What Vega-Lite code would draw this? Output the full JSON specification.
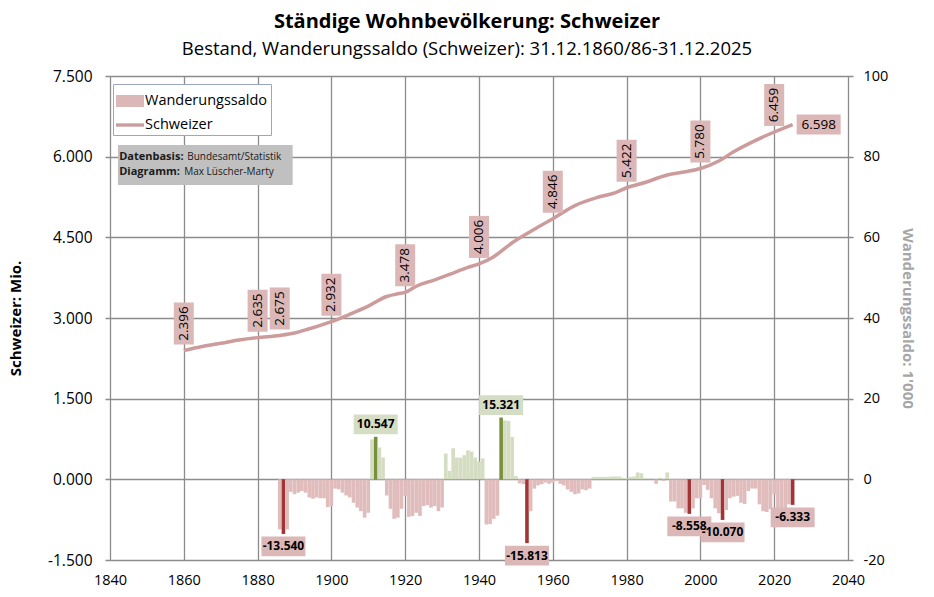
{
  "$schema": "https://vega.github.io/schema/vega-lite/v6.json",
  "description": "Ständige Wohnbevölkerung: Schweizer – Bestand und Wanderungssaldo",
  "width": 748,
  "height": 484,
  "autosize": "none",
  "padding": {"left": 105, "top": 76, "right": 81, "bottom": 37},
  "background": "white",
  "config": {
    "font": "Open Sans",
    "view": {"stroke": null},
    "locale": {"number": {"decimal": ".", "thousands": "'", "grouping": [3], "currency": ["", ""], "minus": "-"}},
    "axis": {
      "domain": false,
      "ticks": false,
      "gridColor": "#8c8c8c",
      "gridWidth": 1.3,
      "gridOpacity": 1,
      "labelColor": "#000",
      "labelFont": "Open Sans",
      "titleFont": "Open Sans"
    }
  },
  "title": {
    "text": "Ständige Wohnbevölkerung: Schweizer",
    "subtitle": "Bestand, Wanderungssaldo (Schweizer): 31.12.1860/86-31.12.2025",
    "anchor": "middle",
    "dx": -12,
    "offset": 10,
    "font": "Open Sans",
    "fontSize": 20,
    "fontWeight": "bold",
    "color": "#000",
    "subtitleFont": "Open Sans",
    "subtitleFontSize": 18.5,
    "subtitleColor": "#000",
    "subtitlePadding": 8
  },
  "datasets": {
    "bestand": [
      {"year": 1860, "mio": 2.396, "label": true},
      {"year": 1865, "mio": 2.47},
      {"year": 1870, "mio": 2.53},
      {"year": 1875, "mio": 2.59},
      {"year": 1880, "mio": 2.635, "label": true},
      {"year": 1886, "mio": 2.675, "label": true},
      {"year": 1890, "mio": 2.72},
      {"year": 1894, "mio": 2.8},
      {"year": 1900, "mio": 2.932, "label": true},
      {"year": 1905, "mio": 3.07},
      {"year": 1910, "mio": 3.22},
      {"year": 1915, "mio": 3.4},
      {"year": 1918, "mio": 3.45},
      {"year": 1920, "mio": 3.478, "label": true},
      {"year": 1923, "mio": 3.59},
      {"year": 1928, "mio": 3.71},
      {"year": 1932, "mio": 3.81},
      {"year": 1937, "mio": 3.94},
      {"year": 1940, "mio": 4.006, "label": true},
      {"year": 1944, "mio": 4.14},
      {"year": 1949, "mio": 4.4},
      {"year": 1955, "mio": 4.65},
      {"year": 1960, "mio": 4.846, "label": true},
      {"year": 1966, "mio": 5.09},
      {"year": 1972, "mio": 5.24},
      {"year": 1977, "mio": 5.33},
      {"year": 1980, "mio": 5.422, "label": true},
      {"year": 1985, "mio": 5.52},
      {"year": 1991, "mio": 5.66},
      {"year": 1996, "mio": 5.72},
      {"year": 2000, "mio": 5.78, "label": true},
      {"year": 2005, "mio": 5.92},
      {"year": 2009, "mio": 6.09},
      {"year": 2014, "mio": 6.27},
      {"year": 2020, "mio": 6.459, "label": true},
      {"year": 2025, "mio": 6.598, "label": true}
    ],
    "saldo": [
      {"year": 1886, "saldo": -12.4},
      {"year": 1887, "saldo": -13.54, "label": true},
      {"year": 1888, "saldo": -12.4},
      {"year": 1889, "saldo": -3.1},
      {"year": 1890, "saldo": -3.7},
      {"year": 1891, "saldo": -3.3},
      {"year": 1892, "saldo": -2.9},
      {"year": 1893, "saldo": -3.3},
      {"year": 1894, "saldo": -4.5},
      {"year": 1895, "saldo": -4.8},
      {"year": 1896, "saldo": -4.5},
      {"year": 1897, "saldo": -4.7},
      {"year": 1898, "saldo": -4.7},
      {"year": 1899, "saldo": -6.9},
      {"year": 1900, "saldo": -6.6},
      {"year": 1901, "saldo": -2.3},
      {"year": 1902, "saldo": -2.5},
      {"year": 1903, "saldo": -3.3},
      {"year": 1904, "saldo": -4.0},
      {"year": 1905, "saldo": -4.5},
      {"year": 1906, "saldo": -5.8},
      {"year": 1907, "saldo": -7.0},
      {"year": 1908, "saldo": -7.9},
      {"year": 1909, "saldo": -9.5},
      {"year": 1910, "saldo": -8.3},
      {"year": 1911, "saldo": 9.9},
      {"year": 1912, "saldo": 10.547, "label": true},
      {"year": 1913, "saldo": 7.9},
      {"year": 1914, "saldo": 5.4},
      {"year": 1915, "saldo": -4.0},
      {"year": 1916, "saldo": -7.3},
      {"year": 1917, "saldo": -9.8},
      {"year": 1918, "saldo": -9.5},
      {"year": 1919, "saldo": -7.3},
      {"year": 1920, "saldo": -4.1},
      {"year": 1921, "saldo": -9.3},
      {"year": 1922, "saldo": -9.1},
      {"year": 1923, "saldo": -8.3},
      {"year": 1924, "saldo": -9.1},
      {"year": 1925, "saldo": -6.6},
      {"year": 1926, "saldo": -6.4},
      {"year": 1927, "saldo": -7.0},
      {"year": 1928, "saldo": -6.6},
      {"year": 1929, "saldo": -7.9},
      {"year": 1930, "saldo": -7.0},
      {"year": 1931, "saldo": 6.4},
      {"year": 1932, "saldo": 2.1},
      {"year": 1933, "saldo": 7.7},
      {"year": 1934, "saldo": 5.4},
      {"year": 1935, "saldo": 5.4},
      {"year": 1936, "saldo": 6.0},
      {"year": 1937, "saldo": 7.2},
      {"year": 1938, "saldo": 6.9},
      {"year": 1939, "saldo": 5.4},
      {"year": 1940, "saldo": 4.4},
      {"year": 1941, "saldo": 5.2},
      {"year": 1942, "saldo": -11.2},
      {"year": 1943, "saldo": -11.1},
      {"year": 1944, "saldo": -9.8},
      {"year": 1945, "saldo": -9.0},
      {"year": 1946, "saldo": 15.321, "label": true},
      {"year": 1947, "saldo": 14.6},
      {"year": 1948, "saldo": 14.5},
      {"year": 1949, "saldo": 10.5},
      {"year": 1950, "saldo": 0.8},
      {"year": 1951, "saldo": -1.0},
      {"year": 1952, "saldo": -1.2},
      {"year": 1953, "saldo": -15.813, "label": true},
      {"year": 1954, "saldo": -7.9},
      {"year": 1955, "saldo": -2.3},
      {"year": 1956, "saldo": -1.5},
      {"year": 1957, "saldo": -1.2},
      {"year": 1958, "saldo": -0.8},
      {"year": 1959, "saldo": -1.1},
      {"year": 1960, "saldo": -0.8},
      {"year": 1961, "saldo": -0.4},
      {"year": 1962, "saldo": -1.1},
      {"year": 1963, "saldo": -1.5},
      {"year": 1964, "saldo": -2.5},
      {"year": 1965, "saldo": -3.1},
      {"year": 1966, "saldo": -3.7},
      {"year": 1967, "saldo": -3.5},
      {"year": 1968, "saldo": -2.5},
      {"year": 1969, "saldo": -2.7},
      {"year": 1970, "saldo": -2.3},
      {"year": 1971, "saldo": 0.6},
      {"year": 1972, "saldo": 0.6},
      {"year": 1973, "saldo": 0.6},
      {"year": 1974, "saldo": 0.6},
      {"year": 1975, "saldo": 0.6},
      {"year": 1976, "saldo": 0.7},
      {"year": 1977, "saldo": 0.7},
      {"year": 1978, "saldo": 0.7},
      {"year": 1979, "saldo": 0.4},
      {"year": 1980, "saldo": 0.2},
      {"year": 1981, "saldo": 0.6},
      {"year": 1982, "saldo": 0.7},
      {"year": 1983, "saldo": 1.7},
      {"year": 1984, "saldo": 1.5},
      {"year": 1985, "saldo": 0.2},
      {"year": 1986, "saldo": 0.2},
      {"year": 1987, "saldo": 0.2},
      {"year": 1988, "saldo": -1.1},
      {"year": 1989, "saldo": 0.4},
      {"year": 1990, "saldo": -0.4},
      {"year": 1991, "saldo": 1.7},
      {"year": 1992, "saldo": -5.5},
      {"year": 1993, "saldo": -5.5},
      {"year": 1994, "saldo": -7.2},
      {"year": 1995, "saldo": -7.2},
      {"year": 1996, "saldo": -8.3},
      {"year": 1997, "saldo": -8.558, "label": true},
      {"year": 1998, "saldo": -7.2},
      {"year": 1999, "saldo": -4.7},
      {"year": 2000, "saldo": -4.7},
      {"year": 2001, "saldo": -1.4},
      {"year": 2002, "saldo": -2.6},
      {"year": 2003, "saldo": -4.7},
      {"year": 2004, "saldo": -7.2},
      {"year": 2005, "saldo": -8.4},
      {"year": 2006, "saldo": -10.07, "label": true},
      {"year": 2007, "saldo": -7.6},
      {"year": 2008, "saldo": -4.7},
      {"year": 2009, "saldo": -4.3},
      {"year": 2010, "saldo": -4.1},
      {"year": 2011, "saldo": -5.8},
      {"year": 2012, "saldo": -6.1},
      {"year": 2013, "saldo": -2.9},
      {"year": 2014, "saldo": -2.3},
      {"year": 2015, "saldo": -2.3},
      {"year": 2016, "saldo": -6.2},
      {"year": 2017, "saldo": -7.9},
      {"year": 2018, "saldo": -8.1},
      {"year": 2019, "saldo": -7.4},
      {"year": 2020, "saldo": -3.7},
      {"year": 2021, "saldo": -7.9},
      {"year": 2022, "saldo": -9.1},
      {"year": 2023, "saldo": -8.3},
      {"year": 2024, "saldo": -6.2},
      {"year": 2025, "saldo": -6.333, "label": true}
    ],
    "notiz": [
      {"fett": "Datenbasis:", "text": "Bundesamt/Statistik", "zeile": 1},
      {"fett": "Diagramm:", "text": "Max Lüscher-Marty", "zeile": 2}
    ]
  },
  "layer": [
    {
      "data": {"name": "saldo"},
      "encoding": {
        "x": {
          "field": "year",
          "type": "quantitative",
          "scale": {"domain": [1840, 2040], "nice": false, "zero": false},
          "axis": {"values": [1840, 1860, 1880, 1900, 1920, 1940, 1960, 1980, 2000, 2020, 2040], "format": "d", "title": null, "grid": true, "labelFontSize": 14.5, "labelPadding": 13}
        },
        "y": {
          "field": "saldo",
          "type": "quantitative",
          "scale": {"domain": [-20, 100], "nice": false},
          "axis": {
            "orient": "right",
            "values": [-20, 0, 20, 40, 60, 80, 100],
            "format": "d",
            "grid": false,
            "labelFontSize": 14.5,
            "labelPadding": 10,
            "title": "Wanderungssaldo: 1'000",
            "titleColor": "#a6a6a6",
            "titleFontSize": 15,
            "titleFontWeight": "bold",
            "titlePadding": 12
          }
        }
      },
      "layer": [
        {
          "mark": {"type": "bar", "size": 3.6},
          "encoding": {
            "color": {
              "condition": [
                {"test": "datum.label && datum.saldo < 0", "value": "#a13434"},
                {"test": "datum.label", "value": "#77913b"},
                {"test": "datum.saldo < 0", "value": "#e0bcbc"}
              ],
              "value": "#d4ddc2"
            }
          }
        },
        {
          "transform": [{"filter": "datum.label && datum.saldo < 0"}],
          "mark": {"type": "point", "shape": "M-1,-0.45H1V0.45H-1Z", "size": 1936, "filled": true, "opacity": 1, "color": "#dcb7b7", "yOffset": 12.5}
        },
        {
          "transform": [{"filter": "datum.label && datum.saldo < 0"}],
          "mark": {"type": "text", "fontSize": 12, "fontWeight": "bold", "color": "#000", "baseline": "middle", "align": "center", "yOffset": 12.5},
          "encoding": {"text": {"field": "saldo", "type": "quantitative", "format": ".3f"}}
        },
        {
          "transform": [{"filter": "datum.label && datum.saldo > 0"}],
          "mark": {"type": "point", "shape": "M-1,-0.45H1V0.45H-1Z", "size": 1936, "filled": true, "opacity": 1, "color": "#d5ddc5", "yOffset": -12.5}
        },
        {
          "transform": [{"filter": "datum.label && datum.saldo > 0"}],
          "mark": {"type": "text", "fontSize": 12, "fontWeight": "bold", "color": "#000", "baseline": "middle", "align": "center", "yOffset": -12.5},
          "encoding": {"text": {"field": "saldo", "type": "quantitative", "format": ".3f"}}
        }
      ]
    },
    {
      "data": {"name": "bestand"},
      "encoding": {
        "x": {
          "field": "year",
          "type": "quantitative",
          "scale": {"domain": [1840, 2040], "nice": false, "zero": false},
          "axis": {"values": [1840, 1860, 1880, 1900, 1920, 1940, 1960, 1980, 2000, 2020, 2040], "format": "d", "title": null, "grid": true, "labelFontSize": 14.5, "labelPadding": 13}
        },
        "y": {
          "field": "mio",
          "type": "quantitative",
          "scale": {"domain": [-1.5, 7.5], "nice": false},
          "axis": {
            "orient": "left",
            "values": [-1.5, 0, 1.5, 3, 4.5, 6, 7.5],
            "format": ".3f",
            "grid": true,
            "labelFontSize": 15.5,
            "labelPadding": 13,
            "title": "Schweizer: Mio.",
            "titleColor": "#000",
            "titleFontSize": 15,
            "titleFontWeight": "bold",
            "titlePadding": 24
          }
        }
      },
      "layer": [
        {
          "mark": {"type": "line", "strokeWidth": 3.5, "interpolate": "monotone"},
          "encoding": {
            "color": {
              "datum": "Schweizer",
              "type": "nominal",
              "scale": {"domain": ["Wanderungssaldo", "Schweizer"], "range": ["#dcb7b7", "#cc9c9c"]},
              "legend": {
                "title": null,
                "orient": "top-left",
                "offset": 8,
                "fillColor": "white",
                "strokeColor": "#9aa6c4",
                "padding": 3,
                "labelFont": "Open Sans",
                "labelFontSize": 14.5,
                "labelColor": "#000",
                "labelOffset": 1,
                "rowPadding": 3,
                "symbolSize": 784,
                "encode": {
                  "symbols": {
                    "update": {
                      "shape": {"signal": "datum.value === 'Schweizer' ? 'M-1,-0.12H1V0.12H-1Z' : 'M-1,-0.43H1V0.43H-1Z'"},
                      "fill": {"signal": "datum.value === 'Schweizer' ? '#cc9c9c' : '#dcb7b7'"},
                      "stroke": {"value": "transparent"},
                      "strokeWidth": {"value": 0},
                      "opacity": {"value": 1}
                    }
                  }
                }
              }
            }
          }
        },
        {
          "transform": [{"filter": "datum.label && datum.year < 2025"}],
          "mark": {"type": "point", "shape": "M-0.476,-1H0.476V1H-0.476Z", "size": 1764, "filled": true, "opacity": 1, "color": "#dcb7b7", "yOffset": -27}
        },
        {
          "transform": [{"filter": "datum.label && datum.year < 2025"}],
          "mark": {"type": "text", "angle": 270, "fontSize": 13.5, "color": "#000", "align": "center", "baseline": "middle", "yOffset": -27},
          "encoding": {"text": {"field": "mio", "type": "quantitative", "format": ".3f"}}
        },
        {
          "transform": [{"filter": "datum.year == 2025"}],
          "mark": {"type": "point", "shape": "M-1,-0.45H1V0.45H-1Z", "size": 1936, "filled": true, "opacity": 1, "color": "#dcb7b7", "xOffset": 26}
        },
        {
          "transform": [{"filter": "datum.year == 2025"}],
          "mark": {"type": "text", "fontSize": 13.5, "color": "#000", "align": "center", "baseline": "middle", "xOffset": 26},
          "encoding": {"text": {"field": "mio", "type": "quantitative", "format": ".3f"}}
        }
      ]
    },
    {
      "data": {"name": "notiz"},
      "encoding": {
        "x": {
          "datum": 1842.5,
          "type": "quantitative",
          "scale": {"domain": [1840, 2040], "nice": false, "zero": false},
          "axis": {"values": [1840, 1860, 1880, 1900, 1920, 1940, 1960, 1980, 2000, 2020, 2040], "format": "d", "title": null, "grid": true, "labelFontSize": 14.5, "labelPadding": 13}
        }
      },
      "layer": [
        {
          "transform": [{"filter": "datum.zeile == 1"}],
          "mark": {"type": "rect", "color": "#c0c0c0"},
          "encoding": {
            "x": {"datum": 1842.15, "type": "quantitative", "scale": {"domain": [1840, 2040], "nice": false, "zero": false}, "axis": {"values": [1840, 1860, 1880, 1900, 1920, 1940, 1960, 1980, 2000, 2020, 2040], "format": "d", "title": null, "grid": true, "labelFontSize": 14.5, "labelPadding": 13}},
            "x2": {"datum": 1889.5},
            "y": {"datum": 6.217, "type": "quantitative", "scale": {"domain": [-1.5, 7.5], "nice": false}, "axis": null},
            "y2": {"datum": 5.473}
          }
        },
        {
          "transform": [{"filter": "datum.zeile == 1"}],
          "mark": {"type": "text", "fontSize": 11, "fontWeight": "bold", "color": "#1a1a1a", "align": "left", "baseline": "middle"},
          "encoding": {
            "y": {"datum": 5.985, "type": "quantitative", "scale": {"domain": [-1.5, 7.5], "nice": false}, "axis": null},
            "text": {"field": "fett"}
          }
        },
        {
          "transform": [{"filter": "datum.zeile == 2"}],
          "mark": {"type": "text", "fontSize": 11, "fontWeight": "bold", "color": "#1a1a1a", "align": "left", "baseline": "middle"},
          "encoding": {
            "y": {"datum": 5.724, "type": "quantitative", "scale": {"domain": [-1.5, 7.5], "nice": false}, "axis": null},
            "text": {"field": "fett"}
          }
        },
        {
          "transform": [{"filter": "datum.zeile == 1"}],
          "mark": {"type": "text", "fontSize": 10, "color": "#1a1a1a", "align": "left", "baseline": "middle", "xOffset": 68},
          "encoding": {
            "y": {"datum": 5.985, "type": "quantitative", "scale": {"domain": [-1.5, 7.5], "nice": false}, "axis": null},
            "text": {"field": "text"}
          }
        },
        {
          "transform": [{"filter": "datum.zeile == 2"}],
          "mark": {"type": "text", "fontSize": 10, "color": "#1a1a1a", "align": "left", "baseline": "middle", "xOffset": 65},
          "encoding": {
            "y": {"datum": 5.724, "type": "quantitative", "scale": {"domain": [-1.5, 7.5], "nice": false}, "axis": null},
            "text": {"field": "text"}
          }
        }
      ]
    }
  ],
  "resolve": {"scale": {"y": "independent"}}
}
